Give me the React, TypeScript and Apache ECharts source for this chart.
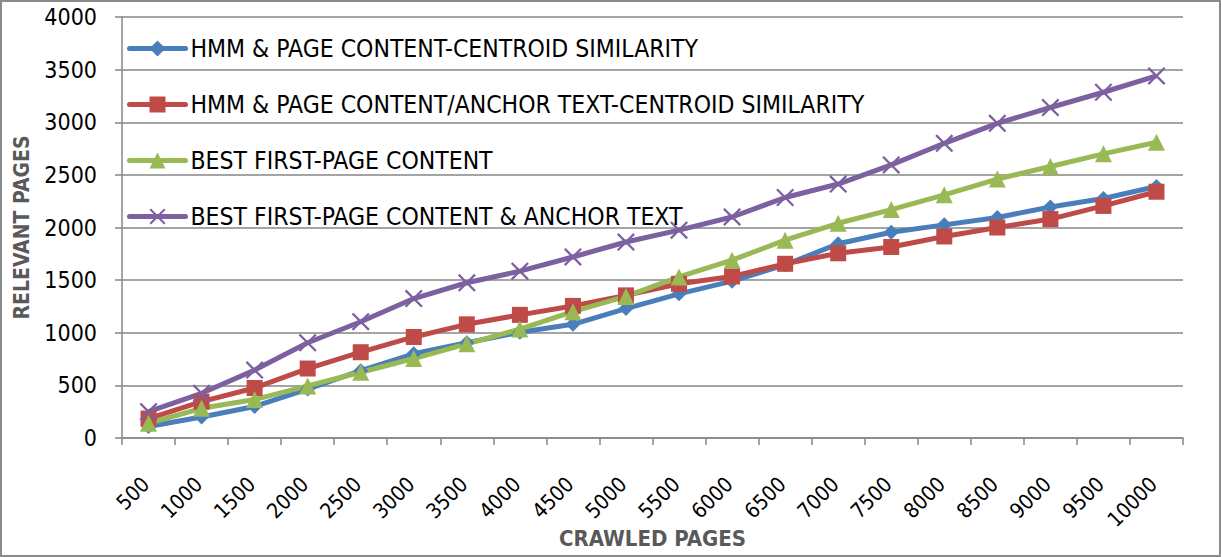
import React, { useEffect, useRef } from "react";
import * as echarts from "echarts";

const categories = ["500","1000","1500","2000","2500","3000","3500","4000","4500","5000","5500","6000","6500","7000","7500","8000","8500","9000","9500","10000"];
const seriesNames = [
  "HMM & PAGE CONTENT-CENTROID SIMILARITY",
  "HMM & PAGE CONTENT/ANCHOR TEXT-CENTROID SIMILARITY",
  "BEST FIRST-PAGE CONTENT",
  "BEST FIRST-PAGE CONTENT & ANCHOR TEXT",
];
const hmmContent = [110, 200, 300, 465, 640, 800, 905, 1005, 1080, 1230, 1370, 1490, 1645, 1845, 1955, 2025, 2095, 2195, 2275, 2390];
const hmmAnchor = [185, 345, 475, 660, 815, 960, 1080, 1170, 1255, 1355, 1465, 1535, 1655, 1755, 1815, 1915, 2000, 2080, 2205, 2340];
const bestFirstContent = [140, 282, 365, 495, 625, 755, 895, 1035, 1200, 1345, 1530, 1690, 1880, 2040, 2170, 2310, 2460, 2580, 2700, 2810];
const bestFirstAnchor = [250, 425, 645, 905, 1105, 1325, 1475, 1585, 1720, 1862, 1975, 2100, 2285, 2413, 2595, 2800, 2990, 3140, 3285, 3440];
const yTicks = [0, 500, 1000, 1500, 2000, 2500, 3000, 3500, 4000];

const colors = ["#4A7EBB", "#BE4B48", "#98B954", "#7D60A0"];
const FONT = "'DejaVu Sans Condensed', 'Liberation Sans', sans-serif";
const CROSS = "path://M0,0.9 L0.9,0 L5,4.1 L9.1,0 L10,0.9 L5.9,5 L10,9.1 L9.1,10 L5,5.9 L0.9,10 L0,9.1 L4.1,5 Z";

export default function App() {
  const ref = useRef<HTMLDivElement>(null);
  useEffect(() => {
    const chart = echarts.init(ref.current!, null, { renderer: "svg" });
    const datas = [hmmContent, hmmAnchor, bestFirstContent, bestFirstAnchor];
    const symbols = ["diamond", "rect", "triangle", CROSS];
    const sizes = [15, 16, 17, 18];
    const legendTops = [31, 87, 143, 199];
    chart.setOption({
      animation: false,
      graphic: [
        { type: "rect", shape: { x: 1, y: 1, width: 1219, height: 555 }, style: { fill: "none", stroke: "#8A8A8A", lineWidth: 2 } },
      ],
      grid: { left: 122, right: 38, top: 17, bottom: 119, containLabel: false, outerBoundsMode: "none" },
      legend: seriesNames.map((n, i) => ({
        data: [n],
        left: 122,
        top: legendTops[i],
        itemWidth: 56,
        itemHeight: 20,
        itemGap: 4,
        lineStyle: { width: 5, cap: "round" },
        textStyle: { fontFamily: FONT, fontSize: 24.5, color: "#000" },
      })),
      xAxis: {
        type: "category",
        data: categories,
        boundaryGap: true,
        name: "CRAWLED PAGES",
        nameLocation: "middle",
        nameGap: 89,
        nameMoveOverlap: false,
        nameTextStyle: { fontFamily: FONT, fontSize: 22, fontWeight: "bold", color: "#595959" },
        axisLine: { lineStyle: { color: "#868686", width: 1.5 } },
        axisTick: { show: true, length: 7, lineStyle: { color: "#868686", width: 1.5 } },
        axisLabel: { interval: 0, rotate: 45, margin: 40, padding: [0, 4, 0, 0], fontFamily: FONT, fontSize: 21, color: "#000" },
      },
      yAxis: {
        type: "value",
        min: 0,
        max: 4000,
        interval: 500,
        name: "RELEVANT PAGES",
        nameLocation: "middle",
        nameGap: 90,
        nameMoveOverlap: false,
        nameTextStyle: { fontFamily: FONT, fontSize: 21, fontWeight: "bold", color: "#595959" },
        axisLine: { show: true, lineStyle: { color: "#868686", width: 1.5 } },
        axisTick: { show: true, length: 7, lineStyle: { color: "#868686", width: 1.5 } },
        axisLabel: {
          margin: 25, fontFamily: FONT, fontSize: 23, color: "#000",
          formatter: (v: number) => (yTicks.includes(v) ? String(v) : ""),
        },
        splitLine: { lineStyle: { color: "#868686", width: 1.5 } },
      },
      series: seriesNames.map((n, i) => ({
        name: n,
        type: "line",
        data: datas[i],
        symbol: symbols[i],
        symbolSize: sizes[i],
        showSymbol: true,
        lineStyle: { color: colors[i], width: 5 },
        itemStyle: { color: colors[i], borderColor: colors[i], borderWidth: 0 },
      })),
    });
    return () => chart.dispose();
  }, []);
  return <div ref={ref} style={{ position: "fixed", left: 0, top: 0, width: 1221, height: 557, background: "#fff" }} />;
}
